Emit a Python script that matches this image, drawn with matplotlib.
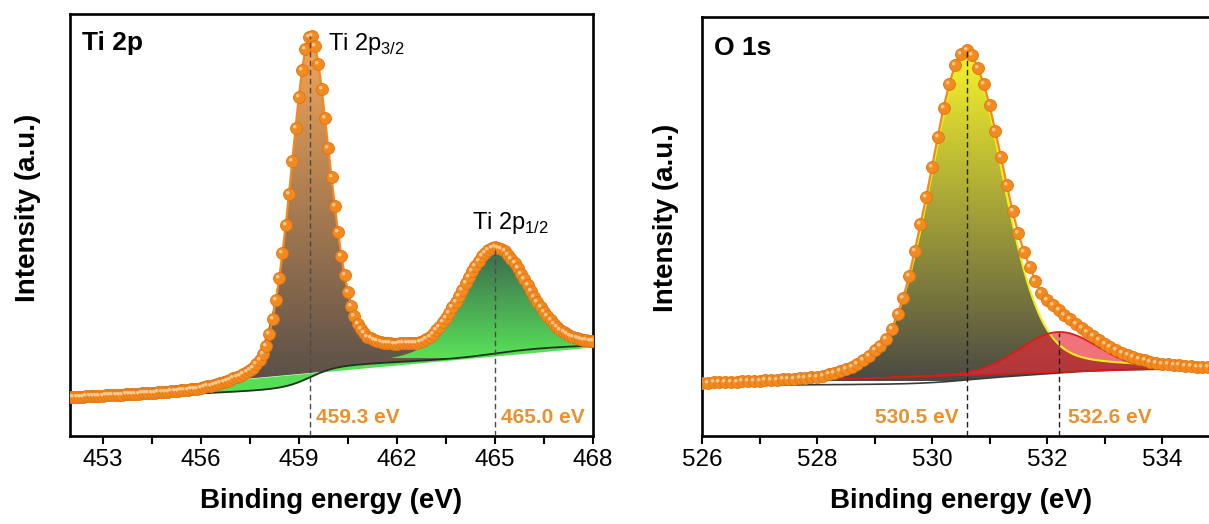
import numpy as np
import matplotlib
matplotlib.use('Agg')
import matplotlib.pyplot as plt
from matplotlib.patches import Polygon
from matplotlib.colors import LinearSegmentedColormap
from matplotlib.path import Path
from matplotlib.ticker import FixedLocator

plt.rcParams['font.family'] = ['Liberation Sans', 'DejaVu Sans']

# ---------------- data ----------------
ti_energy_range = (452.0, 468.0, 0.1)
ti_counts = [
    39.0, 39.1, 39.2, 39.4, 39.5, 39.7, 39.8, 40.0, 40.1, 40.3,
    40.4, 40.6, 40.7, 40.9, 41.1, 41.2, 41.4, 41.6, 41.8, 42.0,
    42.2, 42.4, 42.6, 42.8, 43.0, 43.2, 43.4, 43.6, 43.9, 44.1,
    44.4, 44.7, 45.0, 45.3, 45.6, 45.9, 46.3, 46.6, 47.1, 47.5,
    48.0, 48.8, 49.6, 50.4, 51.3, 52.2, 53.1, 54.1, 55.2, 56.5,
    57.8, 58.9, 60.2, 61.8, 63.6, 65.8, 68.4, 71.6, 75.8, 81.8,
    90.5, 102.5, 117.5, 136.0, 158.0, 183.0, 211.0, 242.0, 275.0, 308.0,
    339.0, 366.0, 387.0, 399.0, 400.0, 390.0, 372.0, 347.0, 318.0, 288.0,
    258.8, 230.0, 203.7, 180.5, 160.7, 144.1, 130.5, 119.7, 112.3, 107.0,
    103.0, 99.4, 97.8, 95.7, 94.7, 94.2, 93.4, 92.9, 92.6, 92.4,
    92.4, 92.6, 92.9, 93.0, 93.1, 93.2, 93.4, 94.0, 94.7, 96.9,
    99.3, 102.3, 105.6, 109.5, 113.7, 118.3, 123.3, 128.7, 134.4, 140.4,
    146.5, 152.7, 158.8, 164.6, 170.1, 175.3, 179.7, 183.4, 186.1, 188.0,
    188.7, 188.5, 187.0, 184.7, 181.5, 177.5, 172.8, 167.7, 162.3, 156.6,
    150.9, 145.1, 139.5, 134.1, 129.0, 124.2, 119.9, 116.0, 112.4, 109.3,
    106.5, 104.1, 102.1, 100.5, 99.1, 97.9, 96.9, 96.3, 95.7, 95.2,
    94.9]

o_energy_range = (526.0, 535.0, 0.1)
o_counts = [
    53.3, 53.4, 53.6, 53.8, 54.0, 54.2, 54.3, 54.6, 54.8, 55.1,
    55.3, 55.6, 55.9, 56.2, 56.6, 56.9, 57.2, 57.7, 58.2, 58.7,
    59.2, 60.5, 61.8, 63.3, 65.0, 67.0, 69.5, 72.5, 76.5, 80.5,
    86.0, 90.5, 97.0, 107.0, 122.0, 138.0, 160.0, 185.0, 212.0, 239.0,
    269.0, 299.0, 328.0, 352.0, 371.0, 382.0, 386.0, 381.0, 368.0, 352.0,
    331.0, 305.0, 279.0, 251.0, 225.0, 203.0, 184.0, 169.0, 155.0, 143.0,
    136.0, 131.0, 126.0, 121.0, 117.0, 112.5, 108.5, 104.0, 100.0, 96.0,
    92.5, 89.5, 86.5, 83.5, 81.0, 78.9, 77.2, 75.6, 74.3, 73.2,
    72.3, 71.6, 71.0, 70.6, 70.2, 69.8, 69.4, 69.0, 68.6, 68.3,
    68.0]

# fitted components: (center, height, half-width, lorentz fraction)
ti_2p32 = (459.35, 341.0, 0.72, 0.50)
ti_2p12 = (465.0, 105.0, 1.20, 0.30)
ti_shirley = (37.0, 1.25, 25.0, 8.5)      # start, slope, step of each peak
ti_linear_bg = (41.0, 89.0)               # value at 452 and at 468

o_lattice = (530.6, 328.0, 0.76, 0.30)
o_hydroxyl = (532.2, 40.0, 0.80, 0.0)
o_shirley = (50.5, 0.3, 8.2, 5.7)
o_linear_bg = (528.4, 57.0, 535.0, 69.1)

ti_marks = [459.35, 465.0]
ti_mark_tops = [400.0, 188.7]
ti_mark_labels = ['459.3 eV', '465.0 eV']
o_marks = [530.6, 532.2]
o_mark_tops = [386.0, 103.0]
o_mark_labels = ['530.5 eV', '532.6 eV']

ti_xticks = [453, 456, 459, 462, 465, 468]
ti_xminor = [454.5, 457.5, 460.5, 463.5, 466.5]
o_xticks = [526, 528, 530, 532, 534]
o_xminor = [527, 529, 531, 533, 535]

ORANGE = '#F28A20'
LABEL_OR = '#E8912E'


def pvoigt(x, c, h, w, eta):
    r2 = ((x - c) / w) ** 2
    return h * ((1 - eta) * np.exp(-np.log(2) * r2) + eta / (1 + r2))


def shirley(x, start, slope, comps, steps):
    s = start + slope * (x - x[0])
    for comp, k in zip(comps, steps):
        cum = np.cumsum(comp)
        s = s + k * cum / cum[-1]
    return s


def grad_fill(ax, x, y0, y1, c_bot, c_top, hb, ht, z, alpha=1.0):
    verts = np.column_stack([np.r_[x, x[::-1]], np.r_[y1, y0[::-1]]])
    poly = Polygon(verts, closed=True, facecolor='none', edgecolor='none')
    ax.add_patch(poly)
    cmap = LinearSegmentedColormap.from_list('g', [c_bot, c_top])
    grad = np.linspace(0, 1, 256).reshape(-1, 1)
    im = ax.imshow(grad, extent=[x.min(), x.max(), hb, ht], origin='lower',
                   aspect='auto', cmap=cmap, zorder=z, alpha=alpha,
                   interpolation='bilinear')
    im.set_clip_path(poly)


# ball marker highlight (offset towards upper-left)
circ = Path.circle(center=(-0.30, 0.30), radius=0.30)
hl_verts = np.vstack([[[-1, -1], [1, 1]], circ.vertices])
hl_codes = [Path.MOVETO, Path.MOVETO] + list(circ.codes)
HIGHLIGHT = Path(hl_verts, hl_codes)


def draw_data(ax, x, y):
    ax.plot(x, y, color=ORANGE, lw=1.6, zorder=5)
    ax.plot(x, y, ls='none', marker='o', ms=8.6, mfc=ORANGE, mec='#E27410',
            mew=0.6, zorder=6)
    ax.plot(x, y, ls='none', marker=HIGHLIGHT, ms=8.6, mfc='#FFCF99',
            mec='none', zorder=6.5, alpha=0.9)


def style_axes(ax, xlim, ylim, major, minor):
    ax.set_xlim(*xlim)
    ax.set_ylim(*ylim)
    ax.xaxis.set_major_locator(FixedLocator(major))
    ax.xaxis.set_minor_locator(FixedLocator(minor))
    ax.tick_params(axis='x', which='both', direction='out', length=5.5,
                   width=1.5, labelsize=17.5, pad=4)
    ax.tick_params(axis='y', which='both', left=False, labelleft=False)
    for sp in ax.spines.values():
        sp.set_linewidth(1.9)
    ax.set_xlabel('Binding energy (eV)', fontsize=20, fontweight='bold')
    ax.set_ylabel('Intensity (a.u.)', fontsize=20, fontweight='bold')


fig = plt.figure(figsize=(12.09, 5.24), dpi=100)
ax1 = fig.add_axes([70 / 1209, 88 / 524, 523 / 1209, 422 / 524])
ax2 = fig.add_axes([702 / 1209, 88 / 524, 517.5 / 1209, 419 / 524])

# ---------------- Ti 2p ----------------
ti_x = np.round(np.arange(ti_energy_range[0], ti_energy_range[1] + 1e-6,
                          ti_energy_range[2]), 1)
ti_y = np.array(ti_counts)
xf = np.linspace(ti_energy_range[0], ti_energy_range[1], 1601)
p1 = pvoigt(xf, *ti_2p32)
p2 = pvoigt(xf, *ti_2p12)
s_ti = shirley(xf, ti_shirley[0], ti_shirley[1], [p1, p2], ti_shirley[2:])
lin_ti = ti_linear_bg[0] + (ti_linear_bg[1] - ti_linear_bg[0]) * (xf - xf[0]) / (xf[-1] - xf[0])

ax1.fill_between(xf, np.minimum(s_ti, lin_ti), np.maximum(s_ti, lin_ti),
                 color='#55DF55', lw=0, zorder=1)
bot = np.maximum(s_ti, lin_ti)
top = np.maximum(s_ti + p1 + p2, bot)
grad_fill(ax1, xf, bot, top, '#5A5049', '#F6A657', 55, 400, 2)
m2 = p2 > 0.3
grad_fill(ax1, xf[m2], s_ti[m2], s_ti[m2] + p2[m2], '#58E258', '#3B654E', 78, 190, 3)
ax1.plot(xf, s_ti, color='#1E3320', lw=1.3, zorder=4)

draw_data(ax1, ti_x, ti_y)
for xm, tp in zip(ti_marks, ti_mark_tops):
    ax1.plot([xm, xm], [0, tp], color='#4A4A4A', lw=1.0, ls=(0, (4, 2.5)), zorder=7)
ax1.text(459.53, 12.7, ti_mark_labels[0], color=LABEL_OR, fontsize=15,
         fontweight='bold', va='baseline', ha='left', zorder=8)
ax1.text(465.2, 12.7, ti_mark_labels[1], color=LABEL_OR, fontsize=15,
         fontweight='bold', va='baseline', ha='left', zorder=8)
ax1.text(459.89, 386, r'Ti 2p$_{\mathregular{3/2}}$', fontsize=17, va='baseline', zorder=8)
ax1.text(464.31, 207, r'Ti 2p$_{\mathregular{1/2}}$', fontsize=17, va='baseline', zorder=8)
ax1.text(0.023, 0.9147, 'Ti 2p', transform=ax1.transAxes, fontsize=19,
         fontweight='bold', va='baseline', zorder=8)
style_axes(ax1, (452, 468), (0, 422), ti_xticks, ti_xminor)
ax1.xaxis.set_label_coords(0.5, -0.123)
ax1.yaxis.set_label_coords(-0.056, 0.54)

# ---------------- O 1s ----------------
o_x = np.round(np.arange(o_energy_range[0], o_energy_range[1] + 1e-6,
                         o_energy_range[2]), 1)
o_y = np.array(o_counts)
xo = np.linspace(o_energy_range[0], o_energy_range[1], 901)
yl = pvoigt(xo, *o_lattice)
rh = pvoigt(xo, *o_hydroxyl)
s_o = shirley(xo, o_shirley[0], o_shirley[1], [yl, rh], o_shirley[2:])
lx0, ly0, lx1, ly1 = o_linear_bg
lin_o = ly0 + (ly1 - ly0) * (xo - lx0) / (lx1 - lx0)

grad_fill(ax2, xo, s_o, s_o + yl, '#4B4A44', '#F8F52C', 55, 386, 2)
ax2.plot(xo, s_o, color='#3A3A3A', lw=1.2, zorder=3.2)
mr = xo >= 529.3
ax2.fill_between(xo[mr], lin_o[mr], lin_o[mr] + rh[mr], color='#EA2A36',
                 alpha=0.66, lw=0, zorder=3)
ax2.plot(xo, s_o + yl, color='#F0EE18', lw=1.5, zorder=3.5)
ml = xo >= lx0
ax2.plot(xo[ml], lin_o[ml], color='#E01A1A', lw=1.2, zorder=3.6)
ax2.plot(xo[mr], lin_o[mr] + rh[mr], color='#E01A1A', lw=1.3, zorder=3.6)

draw_data(ax2, o_x, o_y)
for xm, tp in zip(o_marks, o_mark_tops):
    ax2.plot([xm, xm], [0, tp], color='#202020', lw=1.0, ls=(0, (4, 2.5)), zorder=7)
ax2.text(530.47, 12.7, o_mark_labels[0], color=LABEL_OR, fontsize=15,
         fontweight='bold', va='baseline', ha='right', zorder=8)
ax2.text(532.37, 12.7, o_mark_labels[1], color=LABEL_OR, fontsize=15,
         fontweight='bold', va='baseline', ha='left', zorder=8)
ax2.text(0.024, 0.909, 'O 1s', transform=ax2.transAxes, fontsize=19,
         fontweight='bold', va='baseline', zorder=8)
style_axes(ax2, (526, 535), (0, 419), o_xticks, o_xminor)
ax2.xaxis.set_label_coords(0.5, -0.124)
ax2.yaxis.set_label_coords(-0.045, 0.52)

fig.savefig('out.png', dpi=100)
